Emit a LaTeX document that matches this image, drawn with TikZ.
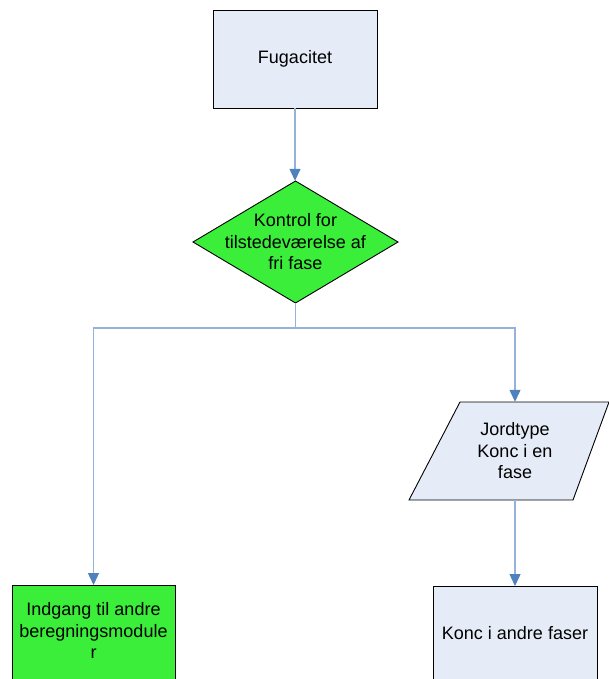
\documentclass[tikz,border=0pt]{standalone}
\usepackage{fontspec}
\setmainfont{Liberation Sans}
\usetikzlibrary{arrows.meta,calc}
\definecolor{boxblue}{RGB}{230,236,247}
\definecolor{flowgreen}{RGB}{58,238,58}
\definecolor{wireblue}{RGB}{150,178,220}
\definecolor{tipblue}{RGB}{79,129,189}
\tikzset{
  every node/.style={font=\fontsize{18}{21.5}\selectfont, align=center},
  procbox/.style={draw=black, line width=0.9pt, fill=boxblue, minimum width=164pt, minimum height=98pt, inner sep=0pt},
  greenbox/.style={draw=black, line width=0.9pt, fill=flowgreen, inner sep=0pt},
  holder/.style={inner sep=0pt},
  wire/.style={draw=wireblue, line width=1.3pt},
  flow/.style={wire, -{Triangle[width=11pt,length=12pt,color=tipblue]}},
}
\begin{document}
\begin{tikzpicture}[x=1pt,y=-1pt]
\clip (0,0) rectangle (609,679);
\fill[white] (0,0) rectangle (609,679);

% start box
\node[procbox] (fug) at (295,59) {Fugacitet};

% decision diamond
\coordinate (ctrl) at (295.5,242);
\filldraw[draw=black, line width=0.9pt, fill=flowgreen]
  (193,242) -- (295.5,181) -- (398,242) -- (295.5,303) -- cycle;
\node[holder, minimum width=205pt, minimum height=122pt] (ctrltext) at (ctrl)
  {Kontrol for\\tilstedeværelse af\\fri fase};

% input parallelogram
\filldraw[draw=black, line width=0.9pt, fill=boxblue]
  (409,500) -- (460,402) -- (609,402) -- (573,500) -- cycle;
\node[holder, minimum width=110pt, minimum height=98pt] (soil) at (515,451)
  {Jordtype\\Konc i en\\fase};

% lower boxes, cut by the page edge
\draw[greenbox] (12,585) rectangle (175,700);
\node[holder, minimum width=163pt, minimum height=10pt, anchor=north] (entry) at (93.5,585) {};
\node[anchor=north, yshift=-14pt] at (entry.north)
  {Indgang til andre\\beregningsmodule\\r};

\draw[draw=black, line width=0.9pt, fill=boxblue] (433,586) rectangle (597,700);
\node[holder, minimum width=164pt, minimum height=10pt, anchor=north] (other) at (515,586) {};
\node at (515,633) {Konc i andre faser};

% connectors
\coordinate (split) at (295.5,328);
\draw[flow] (fug.south) -- (fug.south |- ctrltext.north);
\draw[wire] (ctrltext.south) -- (split);
\draw[flow] (split) -| (entry.north);
\draw[flow] (split) -| (soil.north);
\draw[flow] (soil.south) -- (other.north);
\end{tikzpicture}
\end{document}
